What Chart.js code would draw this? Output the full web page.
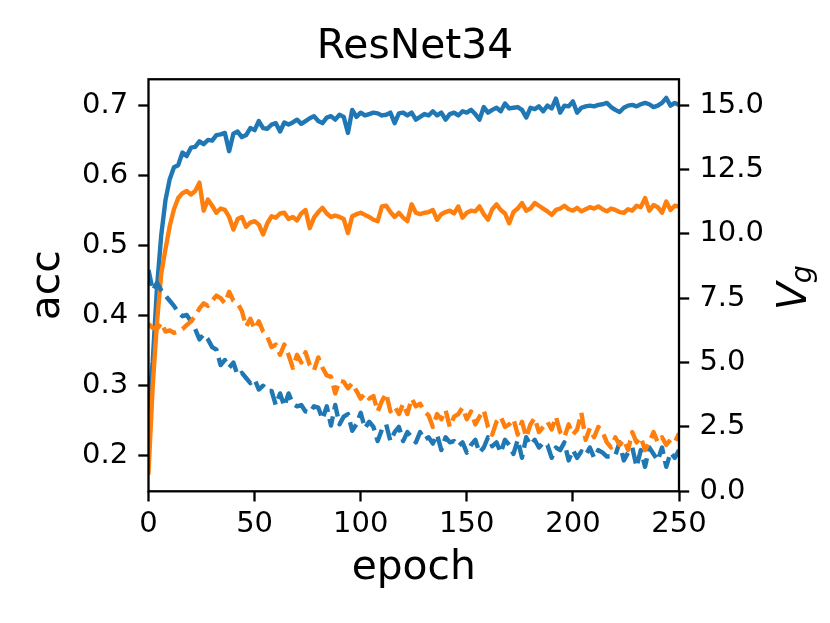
<!DOCTYPE html>
<html lang="en">
<head>
<meta charset="UTF-8">
<title>ResNet34</title>
<script src="https://cdn.jsdelivr.net/npm/chart.js"></script>
<style>
  html, body { margin: 0; padding: 0; background: #fff; }
  canvas { display: block; }
</style>
</head>
<body>
<canvas id="chart" width="830" height="623"></canvas>
<script>
// epochs (every 2nd epoch)
const epochs = [
  0, 2, 4, 6, 8, 10, 12, 14, 16, 18,
  20, 22, 24, 26, 28, 30, 32, 34, 36, 38,
  40, 42, 44, 46, 48, 50, 52, 54, 56, 58,
  60, 62, 64, 66, 68, 70, 72, 74, 76, 78,
  80, 82, 84, 86, 88, 90, 92, 94, 96, 98,
  100, 102, 104, 106, 108, 110, 112, 114, 116, 118,
  120, 122, 124, 126, 128, 130, 132, 134, 136, 138,
  140, 142, 144, 146, 148, 150, 152, 154, 156, 158,
  160, 162, 164, 166, 168, 170, 172, 174, 176, 178,
  180, 182, 184, 186, 188, 190, 192, 194, 196, 198,
  200, 202, 204, 206, 208, 210, 212, 214, 216, 218,
  220, 222, 224, 226, 228, 230, 232, 234, 236, 238,
  240, 242, 244, 246, 248, 250
];

// accuracy, blue solid (left axis)
const accBlue = [
  0.265, 0.335, 0.44, 0.515, 0.565, 0.595, 0.612, 0.615, 0.633, 0.628,
  0.640, 0.641, 0.649, 0.645, 0.651, 0.650, 0.658, 0.659, 0.661, 0.635,
  0.660, 0.663, 0.655, 0.658, 0.668, 0.665, 0.678, 0.668, 0.667, 0.673,
  0.675, 0.663, 0.676, 0.673, 0.676, 0.680, 0.674, 0.678, 0.682, 0.685,
  0.678, 0.675, 0.683, 0.685, 0.680, 0.687, 0.684, 0.661, 0.694, 0.684,
  0.690, 0.686, 0.688, 0.690, 0.689, 0.686, 0.687, 0.690, 0.675, 0.689,
  0.690, 0.686, 0.690, 0.680, 0.684, 0.688, 0.686, 0.692, 0.686, 0.690,
  0.680, 0.688, 0.690, 0.686, 0.692, 0.690, 0.694, 0.688, 0.680, 0.698,
  0.690, 0.694, 0.697, 0.692, 0.703, 0.696, 0.697, 0.698, 0.694, 0.683,
  0.697, 0.695, 0.699, 0.692, 0.700, 0.696, 0.710, 0.690, 0.700, 0.699,
  0.706, 0.690, 0.697, 0.699, 0.700, 0.699, 0.701, 0.702, 0.704, 0.698,
  0.694, 0.691, 0.697, 0.700, 0.701, 0.699, 0.702, 0.704, 0.702, 0.698,
  0.700, 0.704, 0.711, 0.700, 0.704, 0.701
];

// accuracy, orange solid (left axis)
const accOrange = [
  0.176, 0.30, 0.39, 0.46, 0.495, 0.528, 0.552, 0.568, 0.575, 0.578,
  0.573, 0.578, 0.590, 0.550, 0.566, 0.557, 0.547, 0.553, 0.551, 0.541,
  0.523, 0.538, 0.541, 0.527, 0.533, 0.535, 0.530, 0.516, 0.532, 0.542,
  0.540, 0.546, 0.547, 0.538, 0.541, 0.536, 0.546, 0.551, 0.525, 0.540,
  0.548, 0.554, 0.546, 0.541, 0.543, 0.541, 0.538, 0.518, 0.542, 0.545,
  0.547, 0.544, 0.541, 0.537, 0.535, 0.556, 0.557, 0.548, 0.541, 0.547,
  0.540, 0.535, 0.559, 0.547, 0.545, 0.547, 0.548, 0.551, 0.537, 0.545,
  0.548, 0.550, 0.546, 0.556, 0.540, 0.547, 0.550, 0.549, 0.556, 0.545,
  0.537, 0.552, 0.559, 0.551, 0.546, 0.532, 0.548, 0.553, 0.561, 0.550,
  0.553, 0.561, 0.557, 0.553, 0.549, 0.544, 0.551, 0.553, 0.557, 0.552,
  0.550, 0.554, 0.549, 0.552, 0.555, 0.553, 0.556, 0.552, 0.549, 0.553,
  0.551, 0.548, 0.547, 0.552, 0.550, 0.557, 0.555, 0.568, 0.550, 0.558,
  0.555, 0.547, 0.563, 0.551, 0.557, 0.556
];

// V_g, blue dashed (right axis)
const vgBlue = [
  8.6, 7.8, 8.1, 7.8, 7.6, 7.4, 7.2, 6.95, 6.8, 6.85,
  6.6, 6.3, 5.9, 6.1, 5.9, 5.6, 5.5, 4.9, 5.1, 4.8,
  5.0, 4.5, 4.6, 4.4, 4.2, 4.35, 3.95, 4.1, 3.9, 3.9,
  3.35, 3.8, 3.3, 3.8, 3.4, 3.3, 3.35, 3.1, 3.05, 3.3,
  3.25, 2.8, 3.3, 2.55, 3.35, 2.6, 2.9, 3.0, 2.35, 2.6,
  3.05, 2.45, 2.7, 2.5, 1.95, 2.4, 2.6, 1.95, 2.3, 2.5,
  1.95, 2.3, 2.1, 1.9, 2.3, 2.0, 2.1, 1.85, 2.2, 1.6,
  2.1, 1.9, 1.95, 1.75, 1.9, 1.5, 1.8, 2.0, 1.5, 1.7,
  2.1, 1.75, 1.9, 1.5, 2.0, 1.8, 1.45, 2.0, 1.3, 2.1,
  1.8, 2.0, 1.7, 1.9, 1.8, 1.3, 1.7, 1.6, 1.9, 1.2,
  1.6, 1.3, 1.55, 1.4, 1.7, 1.3, 1.6, 1.5, 1.35, 1.35,
  1.4, 1.9, 1.2, 1.5, 1.7, 0.95, 1.6, 0.95, 1.7, 1.45,
  1.2, 1.7, 0.95, 1.5, 1.3, 1.6
];

// V_g, orange dashed (right axis)
const vgOrange = [
  6.5, 6.35, 6.3, 6.55, 6.2, 6.25, 6.15, 6.2, 6.3, 6.45,
  6.6, 6.8, 7.1, 7.3, 7.2, 7.4, 7.6, 7.5, 7.3, 7.75,
  7.4, 7.3, 7.0, 6.4, 6.7, 6.3, 6.6, 6.2, 6.0, 5.6,
  5.7, 5.3, 5.7, 5.3, 4.8, 5.3, 5.0, 5.4, 4.9, 4.7,
  5.2, 4.8, 4.5, 4.45, 3.8, 4.3, 4.25, 4.0, 4.2, 3.9,
  3.6, 3.8, 3.6, 3.7, 3.1, 3.5, 3.8, 3.1, 3.3, 3.0,
  3.4, 3.0, 3.6, 3.3, 3.4, 3.1, 2.95, 2.5, 3.0, 2.8,
  3.15, 2.5, 2.9, 3.0, 3.25, 2.8, 3.1, 2.6, 2.9, 3.15,
  2.5, 2.2, 2.7, 2.9, 2.5, 2.6, 2.8, 2.2, 2.7, 2.1,
  2.6, 2.85, 2.3, 2.5, 2.7, 2.4, 2.9, 2.3, 2.1, 2.6,
  2.2, 2.4, 3.05, 2.0, 2.45, 2.1, 2.5, 2.3, 1.9, 1.7,
  2.1, 1.8, 2.0, 1.6, 2.3, 1.9, 2.1, 1.6, 1.9, 2.3,
  1.9, 2.1, 1.8, 2.0, 1.9, 2.25
];

// tick labels
const xTicks = [0, 50, 100, 150, 200, 250];
const accTicks = [0.2, 0.3, 0.4, 0.5, 0.6, 0.7];
const vgTicks = [0, 2.5, 5, 7.5, 10, 12.5, 15];

const BLUE = '#1f77b4';
const ORANGE = '#ff7f0e';
const LW = 4.4;

function pairs(values) {
  return epochs.map((e, i) => ({ x: e, y: values[i] }));
}

Chart.defaults.font.family = '"DejaVu Sans"';
Chart.defaults.color = '#000';

// axes box drawn over the lines, like matplotlib spines
const framePlugin = {
  id: 'frame',
  afterDatasetsDraw(chart) {
    const { ctx, chartArea: a } = chart;
    ctx.save();
    ctx.strokeStyle = '#000';
    ctx.lineWidth = 2.3;
    ctx.strokeRect(a.left, a.top, a.right - a.left, a.bottom - a.top);
    ctx.restore();
  }
};

// right axis label V_g (italic V with subscript g)
const vgLabelPlugin = {
  id: 'vgLabel',
  afterDraw(chart) {
    const { ctx, chartArea: a } = chart;
    ctx.save();
    ctx.translate(805.5, (a.top + a.bottom) / 2 + 25);
    ctx.rotate(-Math.PI / 2);
    ctx.fillStyle = '#000';
    ctx.textBaseline = 'alphabetic';
    ctx.textAlign = 'left';
    ctx.font = 'italic 40.8px "DejaVu Sans"';
    ctx.fillText('V', 0, 0);
    const w = ctx.measureText('V').width;
    ctx.font = 'italic 28.6px "DejaVu Sans"';
    ctx.fillText('g', w - 1, 5.5);
    ctx.restore();
  }
};

const tickFont = { size: 29 };
const tickGrid = { drawOnChartArea: false, drawTicks: true, tickLength: 10.2, tickWidth: 2.3, tickColor: '#000' };

new Chart(document.getElementById('chart').getContext('2d'), {
  type: 'line',
  data: {
    datasets: [
      { label: 'Vg orange', data: pairs(vgOrange), yAxisID: 'y2', borderColor: ORANGE,
        borderDash: [16.3, 7.0], borderCapStyle: 'butt' },
      { label: 'Vg blue', data: pairs(vgBlue), yAxisID: 'y2', borderColor: BLUE,
        borderDash: [16.3, 7.0], borderCapStyle: 'butt' },
      { label: 'acc orange', data: pairs(accOrange), yAxisID: 'y', borderColor: ORANGE,
        borderCapStyle: 'square' },
      { label: 'acc blue', data: pairs(accBlue), yAxisID: 'y', borderColor: BLUE,
        borderCapStyle: 'square' }
    ]
  },
  options: {
    responsive: false,
    animation: false,
    layout: { padding: 0 },
    datasets: { line: { clip: 0 } },
    elements: {
      line: { tension: 0, borderWidth: LW, borderJoinStyle: 'round', fill: false },
      point: { radius: 0, hoverRadius: 0 }
    },
    plugins: {
      legend: { display: false },
      tooltip: { enabled: false },
      title: {
        display: true,
        text: 'ResNet34',
        color: '#000',
        font: { size: 40.8, weight: 'normal', lineHeight: 1.2 },
        padding: { top: 23.2, bottom: 7.1 }
      }
    },
    scales: {
      x: {
        type: 'linear',
        position: 'bottom',
        min: 0,
        max: 250,
        afterFit(s) { s.height = 131.7; },
        afterBuildTicks(s) { s.ticks = xTicks.map(v => ({ value: v })); },
        ticks: { font: tickFont, padding: 5.5, maxRotation: 0, autoSkip: false, callback: v => String(v) },
        grid: tickGrid,
        border: { display: false },
        title: { display: true, text: 'epoch', font: { size: 40.8, lineHeight: 1.2 }, padding: { top: 0, bottom: 30.6 } }
      },
      y: {
        type: 'linear',
        position: 'left',
        min: 0.1491,
        max: 0.7377,
        afterFit(s) { s.width = 148.5; },
        afterBuildTicks(s) { s.ticks = accTicks.map(v => ({ value: v })); },
        ticks: { font: tickFont, padding: 10.2, autoSkip: false, callback: v => v.toFixed(1) },
        grid: tickGrid,
        border: { display: false },
        title: { display: true, text: 'acc', font: { size: 40.8, lineHeight: 1.2 }, padding: { top: 24.2, bottom: 0 } }
      },
      y2: {
        type: 'linear',
        position: 'right',
        min: 0,
        max: 16,
        afterFit(s) { s.width = 151; },
        afterBuildTicks(s) { s.ticks = vgTicks.map(v => ({ value: v })); },
        ticks: { font: tickFont, padding: 10.2, autoSkip: false, callback: v => v.toFixed(1) },
        grid: tickGrid,
        border: { display: false }
      }
    }
  },
  plugins: [framePlugin, vgLabelPlugin]
});
</script>
</body>
</html>
